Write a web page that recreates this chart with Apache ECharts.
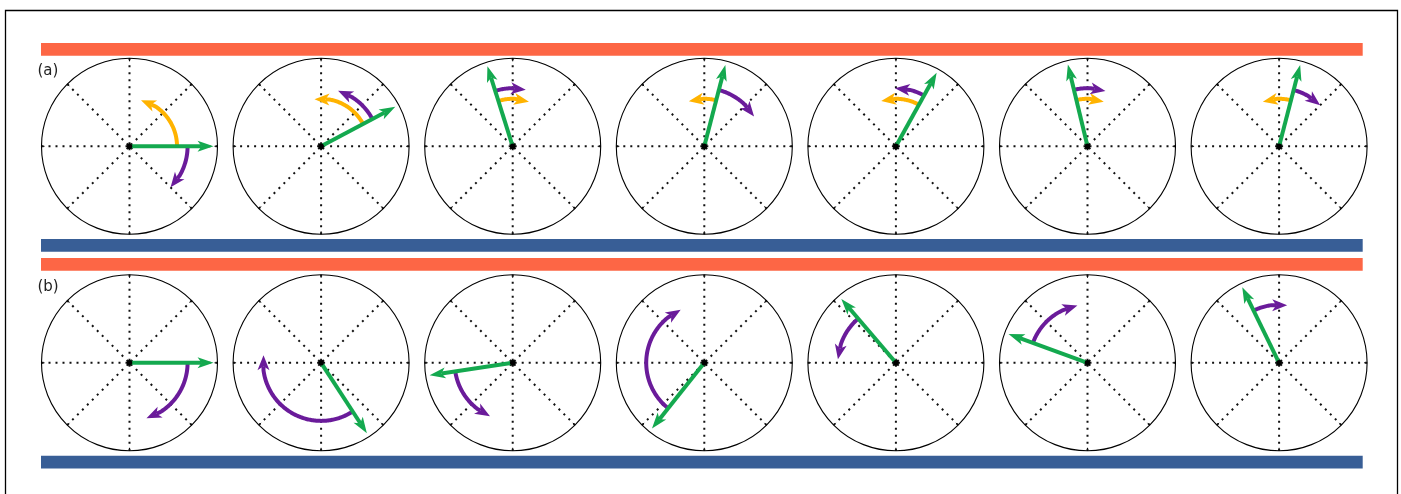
<!DOCTYPE html>
<html><head><meta charset="utf-8">
<script src="https://cdn.jsdelivr.net/npm/echarts@6/dist/echarts.min.js"></script>
<style>html,body{margin:0;padding:0;background:#fff}#c{width:1401px;height:494px}</style>
</head><body><div id="c"></div>
<script>
// ---- data (angles in degrees, counter-clockwise from east; lengths as fraction of circle radius)
const rowLabels = ['(a)', '(b)'];
const rowAVectorAngle = [0, 28, 107.5, 75.5, 61, 103.5, 75.5];
const rowAPurpleEnd   = [-45, 73, 77, 31, 91, 72, 45];
const rowAOrangeEnd   = [76, 98, 70, 109, 108, 70, 110];
const rowBVectorAngle = [0, -57, 188.5, 231.5, 130.5, 160, 116];
const rowBPurpleEnd   = [-73, -187.5, 247, 114, 176.5, 100, 82];
const vectorLength = 0.955;
const purpleRadius = 0.66;
const orangeRadius = 0.54;

// ---- styles / layout
const COL_GREEN = '#14a94f', COL_PURPLE = '#6a1b9a', COL_ORANGE = '#ffb300';
const COL_BAR_TOP = '#fd6645', COL_BAR_BOT = '#385e96';
const R_PX = 88;
const X0 = 129.5, DX = 191.6;
const ROW_Y = [146.3, 362.8];

function norm(a){ return ((a % 360) + 360) % 360; }

function makeRender(panel){
  return function(params, api){
    const c = api.coord([0, 0]).slice(0, 2);
    const pt = (r, a) => api.coord([r, norm(a)]).slice(0, 2);
    const children = [];
    function head(tip, dir, L, W, k, color){
      const nx = -dir[1], ny = dir[0];
      const bx = tip[0] - L * dir[0], by = tip[1] - L * dir[1];
      const notch = [tip[0] - (L - k) * dir[0], tip[1] - (L - k) * dir[1]];
      children.push({type:'polygon', shape:{points:[tip, [bx + W*nx, by + W*ny], notch, [bx - W*nx, by - W*ny]]}, style:{fill: color}});
      return notch;
    }
    function arc(r, a0, a1, color){
      const rp = Math.hypot(pt(r, 0)[0] - c[0], pt(r, 0)[1] - c[1]);
      const L = 15, W = 6, k = 4;
      const sgn = a1 >= a0 ? 1 : -1;
      const dDeg = 2 * Math.asin(Math.min(1, L / (2 * rp))) * 180 / Math.PI;
      const ab = a1 - sgn * dDeg;
      const tip = pt(r, a1), base = pt(r, ab);
      const len = Math.hypot(tip[0]-base[0], tip[1]-base[1]);
      const dir = [(tip[0]-base[0])/len, (tip[1]-base[1])/len];
      const pts = [];
      const n = Math.max(2, Math.ceil(Math.abs(ab - a0)));
      for (let i = 0; i <= n; i++) pts.push(pt(r, a0 + (ab - a0) * i / n));
      const notch = head(tip, dir, L, W, k, color);
      pts.push(notch);
      children.unshift({type:'polyline', shape:{points: pts}, style:{stroke: color, lineWidth: 4, fill: null, lineJoin:'round'}});
    }
    if (panel.orange != null) arc(orangeRadius, panel.angle, panel.orange, COL_ORANGE);
    if (panel.purple != null) arc(purpleRadius, panel.angle, panel.purple, COL_PURPLE);
    // green vector
    const tip = pt(vectorLength, panel.angle);
    const len = Math.hypot(tip[0]-c[0], tip[1]-c[1]);
    const dir = [(tip[0]-c[0])/len, (tip[1]-c[1])/len];
    const notch = head(tip, dir, 16, 5.5, 4, COL_GREEN);
    children.push({type:'line', shape:{x1:c[0], y1:c[1], x2:notch[0], y2:notch[1]}, style:{stroke: COL_GREEN, lineWidth: 4}});
    children.push({type:'circle', shape:{cx:c[0], cy:c[1], r:2.8}, style:{fill:'#000'}});
    return {type:'group', children};
  };
}

const panels = [];
rowAVectorAngle.forEach((a, i) => panels.push({row:0, col:i, angle:a, purple:rowAPurpleEnd[i], orange:rowAOrangeEnd[i]}));
rowBVectorAngle.forEach((a, i) => panels.push({row:1, col:i, angle:a, purple:rowBPurpleEnd[i], orange:null}));

const polar = [], angleAxis = [], radiusAxis = [], series = [];
panels.forEach((p, i) => {
  polar.push({center:[X0 + DX * p.col, ROW_Y[p.row]], radius: R_PX});
  angleAxis.push({polarIndex:i, type:'value', min:0, max:360, interval:45, startAngle:0, clockwise:false,
    axisLine:{show:true, lineStyle:{color:'#000', width:1.1}},
    axisTick:{show:true, inside:true, length:3, lineStyle:{color:'#000', width:1}},
    axisLabel:{show:false},
    splitLine:{show:true, lineStyle:{color:'#111', width:2, type:[2, 5]}}});
  radiusAxis.push({polarIndex:i, type:'value', min:0, max:1, show:false,
    axisLine:{show:false}, axisTick:{show:false}, axisLabel:{show:false}, splitLine:{show:false}});
  series.push({type:'custom', coordinateSystem:'polar', polarIndex:i, data:[[0, 0]], silent:true, animation:false, z:5, renderItem: makeRender(p)});
});

const graphic = [
  {type:'rect', shape:{x:5.5, y:10.5, width:1392, height:600}, style:{fill:null, stroke:'#000', lineWidth:1.3}, z:1},
  {type:'rect', shape:{x:41, y:43, width:1321.7, height:12.7}, style:{fill:COL_BAR_TOP}},
  {type:'rect', shape:{x:41, y:239, width:1321.7, height:12.7}, style:{fill:COL_BAR_BOT}},
  {type:'rect', shape:{x:41, y:258, width:1321.7, height:12.7}, style:{fill:COL_BAR_TOP}},
  {type:'rect', shape:{x:41, y:455.7, width:1321.7, height:12.7}, style:{fill:COL_BAR_BOT}},
  {type:'text', x:37.5, y:71, style:{text:rowLabels[0], font:'15px "DejaVu Sans"', fill:'#222', textVerticalAlign:'middle'}},
  {type:'text', x:37.5, y:287.5, style:{text:rowLabels[1], font:'15px "DejaVu Sans"', fill:'#222', textVerticalAlign:'middle'}}
];

const chart = echarts.init(document.getElementById('c'), null, {renderer:'canvas'});
chart.setOption({animation:false, backgroundColor:'#fff', polar, angleAxis, radiusAxis, series, graphic});
</script></body></html>
